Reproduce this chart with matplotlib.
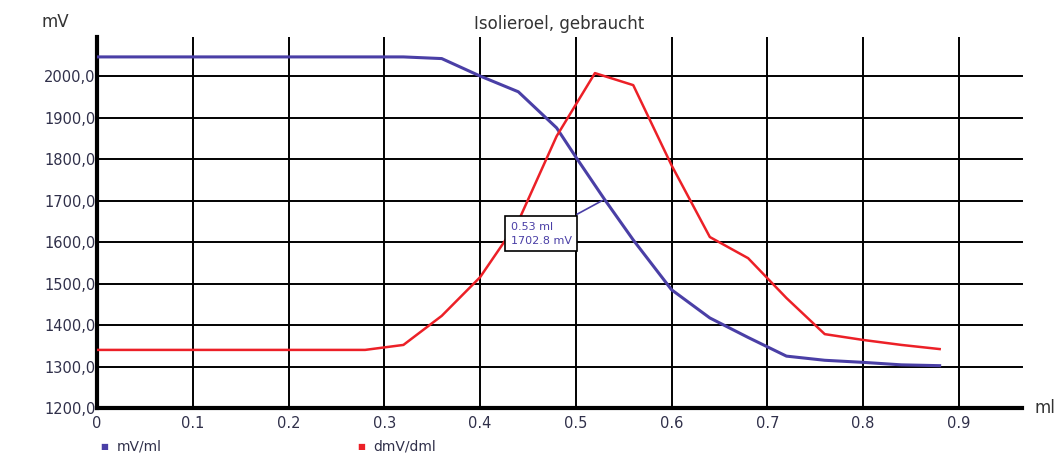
import matplotlib
matplotlib.use("Agg")
import matplotlib.pyplot as plt
from matplotlib.ticker import FuncFormatter

# data
x_mv = [0.0, 0.04, 0.08, 0.12, 0.16, 0.20, 0.24, 0.28, 0.32, 0.36, 0.40, 0.44, 0.48, 0.50, 0.53, 0.56, 0.60, 0.64, 0.68, 0.72, 0.76, 0.80, 0.84, 0.88]
mv =   [2046, 2046, 2046, 2046, 2046, 2046, 2046, 2046, 2046, 2042, 2000, 1962, 1875, 1805, 1702.8, 1605, 1485, 1417, 1370, 1325, 1315, 1310, 1304, 1302]
x_dmv = [0.0, 0.04, 0.08, 0.12, 0.16, 0.20, 0.24, 0.28, 0.32, 0.36, 0.40, 0.44, 0.48, 0.52, 0.56, 0.60, 0.64, 0.68, 0.72, 0.76, 0.80, 0.84, 0.88]
dmv =   [1340, 1340, 1340, 1340, 1340, 1340, 1340, 1340, 1352, 1422, 1515, 1650, 1855, 2007, 1978, 1785, 1612, 1561, 1465, 1378, 1364, 1352, 1342]
x_ticks = [0, 0.1, 0.2, 0.3, 0.4, 0.5, 0.6, 0.7, 0.8, 0.9]
y_ticks = [1200, 1300, 1400, 1500, 1600, 1700, 1800, 1900, 2000]
marker_x, marker_y = 0.53, 1702.8

blue = "#4a3fa6"
red = "#ec2027"
txt = "#30304a"

fig = plt.figure(figsize=(10.55, 4.68), dpi=100)
ax = fig.add_axes([97/1055, 60/468, 925/1055, 371/468])
ax.set_xlim(0, 0.966)
ax.set_ylim(1200, 2094)

for xt in x_ticks[1:]:
    ax.axvline(xt, color="black", lw=1.4, zorder=1)
for yt in y_ticks[1:]:
    ax.axhline(yt, color="black", lw=1.4, zorder=1, clip_on=False)

ax.plot(x_mv, mv, color=blue, lw=2.2, zorder=3, label="mV/ml")
ax.plot(x_dmv, dmv, color=red, lw=1.8, zorder=3, label="dmV/dml")

for s in ["top", "right"]:
    ax.spines[s].set_visible(False)
ax.spines["left"].set_linewidth(3)
ax.spines["bottom"].set_linewidth(3)

ax.set_xticks(x_ticks)
ax.set_xticklabels([("%g" % v) for v in x_ticks])
ax.set_yticks(y_ticks)
ax.yaxis.set_major_formatter(FuncFormatter(lambda v, p: ("%.1f" % v).replace(".", ",")))
ax.tick_params(axis="both", length=0, labelsize=10.5, colors=txt)
ax.tick_params(axis="x", pad=6)
ax.tick_params(axis="y", pad=1)

ax.set_title("Isolieroel, gebraucht", fontsize=12, color="#333333", pad=6)
fig.text(55/1055, 1 - 22/468, "mV", fontsize=12, color="#333333", ha="center", va="center")
fig.text(1035/1055, 1 - 408/468, "ml", fontsize=12, color="#333333", ha="left", va="center")

# annotation
ax.annotate("0.53 ml\n1702.8 mV", xy=(marker_x, marker_y), xytext=(0.432, 1620),
            fontsize=8, color=blue, ha="left", va="center", linespacing=1.5,
            bbox=dict(boxstyle="square,pad=0.5", fc="white", ec="black", lw=1.2),
            arrowprops=dict(arrowstyle="-", color=blue, lw=1.2), zorder=5)

# legend
fig.text(104/1055, 1 - 447/468, "■", color=blue, fontsize=6, ha="center", va="center")
fig.text(117/1055, 1 - 447/468, "mV/ml", color=txt, fontsize=10, ha="left", va="center")
fig.text(361/1055, 1 - 447/468, "■", color=red, fontsize=6, ha="center", va="center")
fig.text(373/1055, 1 - 447/468, "dmV/dml", color=txt, fontsize=10, ha="left", va="center")

fig.savefig("out.png", dpi=100, facecolor="white")
